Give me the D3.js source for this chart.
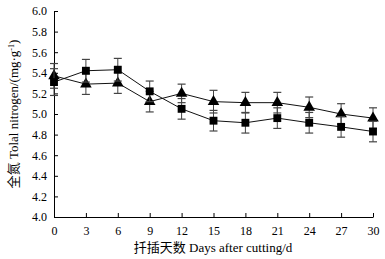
<!DOCTYPE html>
<html><head><meta charset="utf-8">
<script src="https://cdn.jsdelivr.net/npm/d3@7"></script>
<style>body{margin:0;background:#fff}</style>
</head><body>
<svg id="c" width="385" height="259"></svg>
<script>
const days = [0,3,6,9,12,15,18,21,24,27,30];
const squareVals = [5.31,5.42,5.43,5.22,5.05,4.935,4.915,4.96,4.915,4.875,4.83];
const squareErr  = [0.13,0.11,0.11,0.10,0.10,0.10,0.10,0.10,0.10,0.10,0.10];
const triVals    = [5.37,5.29,5.30,5.12,5.20,5.12,5.11,5.11,5.065,5.00,4.96];
const triErr     = [0.12,0.10,0.10,0.10,0.09,0.11,0.10,0.10,0.10,0.10,0.10];
const yTicks = [4.0,4.2,4.4,4.6,4.8,5.0,5.2,5.4,5.6,5.8,6.0];
const xTicks = [0,3,6,9,12,15,18,21,24,27,30];

const svg = d3.select('#c');
const font = '"Liberation Serif","Times New Roman",serif';
const x = d3.scaleLinear().domain([0,30]).range([54,373]);
const y = d3.scaleLinear().domain([4,6]).range([217,11]);

const xAxis = svg.append('g').attr('transform','translate(0,217)')
  .call(d3.axisBottom(x).tickValues(xTicks).tickSize(-4).tickPadding(9).tickSizeOuter(0));
const yAxis = svg.append('g').attr('transform','translate(54,0)')
  .call(d3.axisLeft(y).tickValues(yTicks).tickFormat(d3.format('.1f')).tickSize(-4).tickPadding(7).tickSizeOuter(0));
[xAxis,yAxis].forEach(a=>{
  a.selectAll('path').attr('stroke','#000').attr('stroke-width',1);
  a.selectAll('line').attr('stroke','#000');
  a.selectAll('text').attr('font-family',font).attr('font-size',12).attr('fill','#000');
});

function series(vals, errs, shape){
  const g = svg.append('g');
  const line = d3.line().x((d,i)=>x(days[i])).y(d=>y(d));
  g.append('path').datum(vals).attr('d',line).attr('fill','none').attr('stroke','#111').attr('stroke-width',1);
  vals.forEach((v,i)=>{
    const cx = x(days[i]);
    const t = y(v+errs[i]), b = y(v-errs[i]);
    g.append('line').attr('x1',cx).attr('x2',cx).attr('y1',t).attr('y2',b).attr('stroke','#444').attr('stroke-width',1);
    [t,b].forEach(yy=>g.append('line').attr('x1',cx-4).attr('x2',cx+4).attr('y1',yy).attr('y2',yy).attr('stroke','#444').attr('stroke-width',1.2));
  });
  g.selectAll('path.m').data(vals).enter().append('path').attr('class','m')
    .attr('d', d3.symbol().type(shape).size(shape===d3.symbolSquare?62:58))
    .attr('transform',(d,i)=>`translate(${x(days[i])},${y(d)})`)
    .attr('fill','#000');
}
series(triVals, triErr, d3.symbolTriangle);
series(squareVals, squareErr, d3.symbolSquare);

svg.append('text').attr('x',213).attr('y',252).attr('text-anchor','middle')
  .attr('font-family',font).attr('font-size',13).attr('fill','#000')
  .html('<tspan font-family="Noto Sans CJK SC">扦插天数</tspan> Days after cutting/d');
svg.append('text').attr('transform','translate(18,114) rotate(-90)').attr('text-anchor','middle')
  .attr('font-family',font).attr('font-size',13).attr('fill','#000')
  .html('<tspan font-family="Noto Sans CJK SC">全氮</tspan> Tolal nitrogen/(mg·g<tspan dy="-4" font-size="8">-1</tspan><tspan dy="4">)</tspan>');
</script>
</body></html>
